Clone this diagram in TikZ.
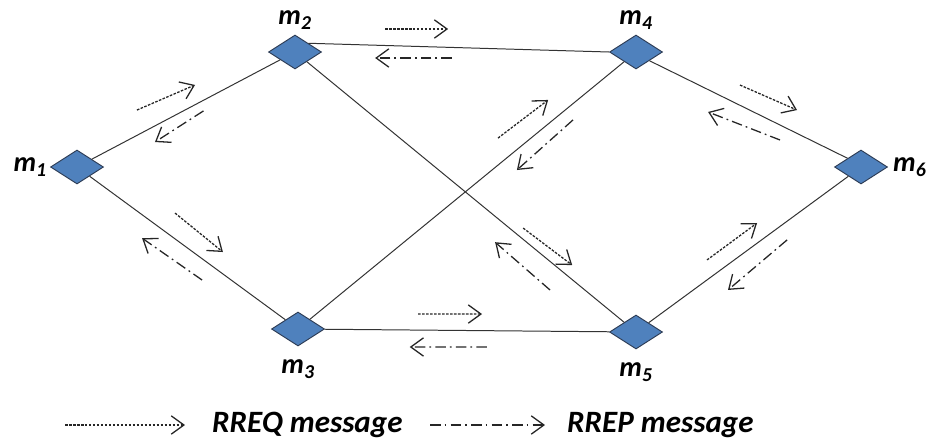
\documentclass[tikz,border=0pt]{standalone}
\usepackage{fontspec}
\setmainfont{Carlito}
\usetikzlibrary{arrows.meta,calc,positioning,shapes.geometric}

\definecolor{hostblue}{RGB}{79,129,189}
\definecolor{hostline}{RGB}{45,60,85}

% message arrow beside a link: style, from, to, start pos, start offset, end pos, end offset (offsets in px)
\newcommand{\msgarrow}[7]{%
  \draw[#1] ($(#2)!#4!(#3)!{#5*0.8536pt}!90:(#3)$) -- ($(#2)!#6!(#3)!{#7*0.8536pt}!90:(#3)$);}

\begin{document}
\begin{tikzpicture}[x=0.03cm,y=-0.03cm,
  host node/.style={diamond,fill=hostblue,draw=hostline,line width=0.8pt,
    minimum width=1.59cm,minimum height=1.02cm,inner sep=0pt},
  name node/.style={inner sep=0pt,font=\fontsize{24}{28}\selectfont\bfseries\itshape},
  key node/.style={inner sep=0pt,font=\fontsize{26.5}{30}\selectfont\bfseries\itshape},
  link/.style={draw=black!80,line width=0.85pt},
  req/.style={-{Straight Barb[length=3.8mm,width=5.5mm]},black!85,line width=1.1pt,
    dash pattern=on 2.2pt off 1.2pt},
  rep/.style={-{Straight Barb[length=3.8mm,width=5.5mm]},black!85,line width=1.1pt,
    dash pattern=on 9pt off 3.5pt on 1.5pt off 3.5pt}]

  \useasboundingbox (0,0) rectangle (934,441);

  \node[host node] (m1) at (77,167) {};
  \node[host node] (m2) at (295,52) {};
  \node[host node] (m3) at (298,329) {};
  \node[host node] (m4) at (636,52) {};
  \node[host node] (m5) at (636,332) {};
  \node[host node] (m6) at (861,167) {};

  \node[name node] (n1) [left=0.09cm of m1] {m\textsubscript{1}};
  \node[name node] (n2) [above=0.15cm of m2] {m\textsubscript{2}};
  \node[name node] (n3) [below=0.4cm of m3] {m\textsubscript{3}};
  \node[name node] (n4) [above=0.15cm of m4] {m\textsubscript{4}};
  \node[name node] (n5) [below=0.4cm of m5] {m\textsubscript{5}};
  \node[name node] (n6) [right=0.15cm of m6] {m\textsubscript{6}};

  \path[link]
    (m1) edge (m2)
    (m1) edge (m3)
    (m2.north east) edge (m4.west)
    (m2) edge (m5)
    (m3) edge (m4)
    (m3) edge (m5)
    (m4.south east) edge (m6.north west)
    (m5) edge (m6)
    ;

  % RREQ and RREP along each link
  \msgarrow{req}{m1}{m2}{0.323}{22.4}{0.579}{17.5}
  \msgarrow{rep}{m1}{m2}{0.560}{-9.4}{0.327}{-14.3}
  \msgarrow{req}{m1}{m3}{0.388}{20.8}{0.613}{17.7}
  \msgarrow{rep}{m1}{m3}{0.612}{-17.2}{0.345}{-18.9}
  \msgarrow{req}{m2}{m4}{0.264}{23}{0.449}{23}
  \msgarrow{rep}{m2}{m4}{0.460}{-6}{0.235}{-6}
  \msgarrow{req}{m2}{m5}{0.653}{8.7}{0.792}{11.2}
  \msgarrow{rep}{m2}{m5}{0.789}{-22.1}{0.624}{-20.0}
  \msgarrow{req}{m3}{m4}{0.631}{20.9}{0.775}{18.6}
  \msgarrow{rep}{m3}{m4}{0.790}{-12.6}{0.618}{-15.8}
  \msgarrow{req}{m3}{m5}{0.355}{16}{0.544}{16.6}
  \msgarrow{rep}{m3}{m5}{0.559}{-16.3}{0.331}{-17}
  \msgarrow{req}{m4}{m6}{0.426}{17.9}{0.672}{21.6}
  \msgarrow{rep}{m4}{m6}{0.666}{-12.8}{0.362}{-20.6}
  \msgarrow{req}{m5}{m6}{0.358}{16.1}{0.581}{16.3}
  \msgarrow{rep}{m5}{m6}{0.632}{-15.1}{0.355}{-20.5}

  % legend
  \coordinate (k1) at (65,425);
  \coordinate (k2) at (185,425);
  \coordinate (k3) at (430,425);
  \coordinate (k4) at (545,425);
  \draw[req] (k1) -- (k2);
  \node[key node,anchor=west] (kreq) at (212,425) {RREQ message};
  \draw[rep] (k3) -- (k4);
  \node[key node,anchor=west] (krep) at (567,425) {RREP message};

\end{tikzpicture}
\end{document}
